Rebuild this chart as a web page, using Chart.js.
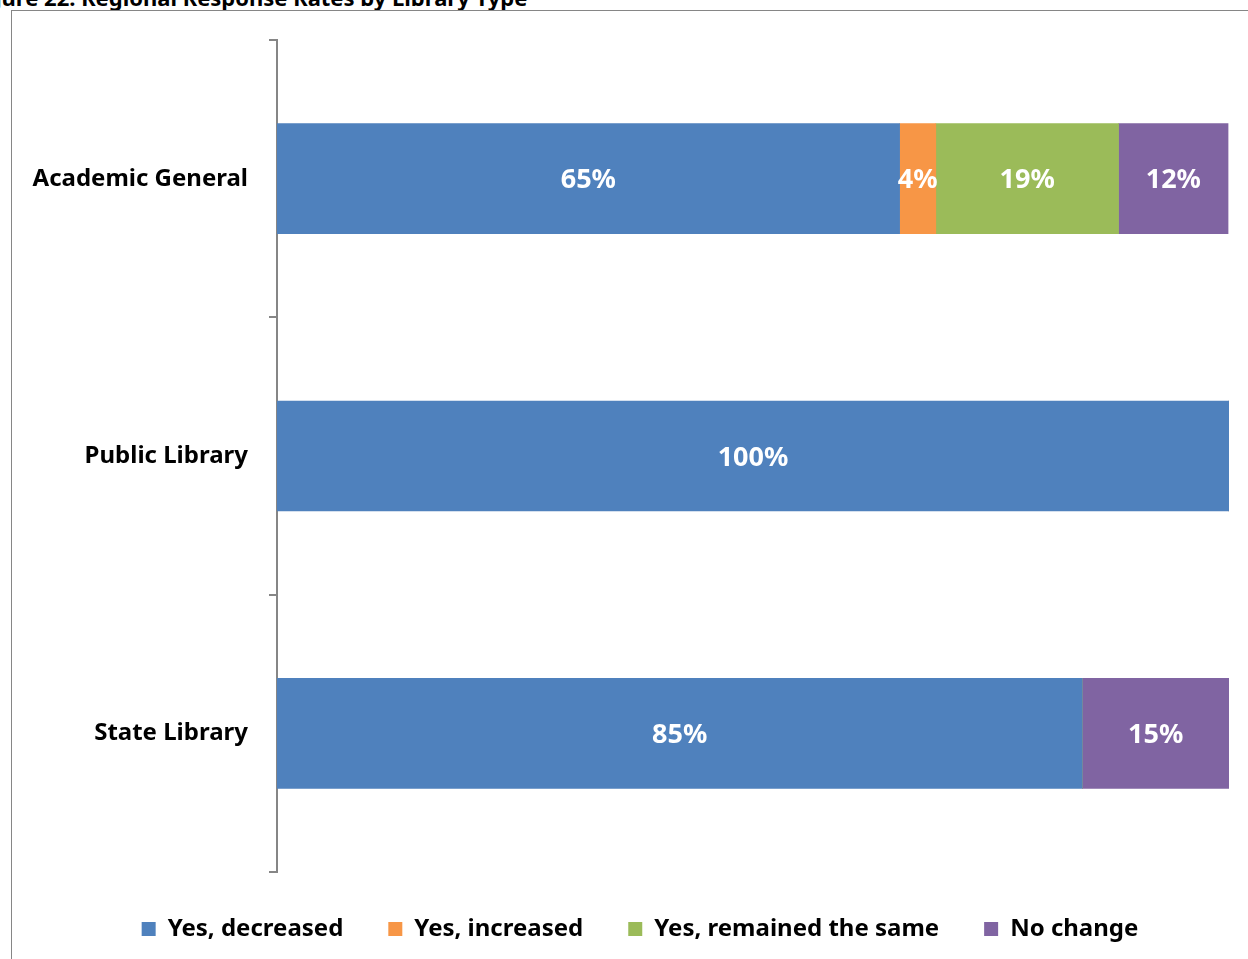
<!DOCTYPE html>
<html>
<head>
<meta charset="utf-8">
<script src="https://cdn.jsdelivr.net/npm/chart.js@4"></script>
<style>
  html, body { margin: 0; padding: 0; background: #fff; overflow: hidden; }
  #titulo {
    position: absolute; left: -31px; top: -18px;
    font: bold 22px "Noto Sans", sans-serif; color: #000; white-space: nowrap;
  }
  #marco {
    position: absolute; left: 11px; top: 10px; width: 1260px; height: 980px;
    border: 1px solid #868686; box-sizing: border-box;
  }
  #lienzo { position: absolute; left: 0; top: 0; }
</style>
</head>
<body>
<div id="titulo">Figure 22: Regional Response Rates by Library Type</div>
<div id="marco"></div>
<canvas id="lienzo" width="1248" height="959"></canvas>
<script>
// Datos
const categorias = ['Academic General', 'Public Library', 'State Library'];
const series = ['Yes, decreased', 'Yes, increased', 'Yes, remained the same', 'No change'];
const siDisminuyo   = [65.4, 100, 84.6];
const siAumento     = [3.8, 0, 0];
const siIgual       = [19.2, 0, 0];
const sinCambio     = [11.5, 0, 15.4];
const colores = ['#4F81BD', '#F79646', '#9BBB59', '#8064A2'];

const FUENTE = '"Noto Sans", sans-serif';

// Plugin para dibujar las etiquetas de porcentaje en blanco
const etiquetas = {
    id: 'etiquetas',
    afterDatasetsDraw(chart) {
        const ctx = chart.ctx;
        ctx.save();
        ctx.fillStyle = '#fff';
        ctx.font = 'bold 27px ' + FUENTE;
        ctx.textAlign = 'center';
        ctx.textBaseline = 'middle';
        chart.data.datasets.forEach((ds, i) => {
            chart.getDatasetMeta(i).data.forEach((bar, j) => {
                const v = ds.data[j];
                if (!v) return;
                const x = (bar.x + bar.base) / 2;
                ctx.fillText(Math.round(v) + '%', x, bar.y + 2);
            });
        });
        ctx.restore();
    }
};

// La leyenda va centrada en todo el marco, no solo en el área del gráfico
const leyendaCentrada = {
    id: 'leyendaCentrada',
    afterLayout(chart) {
        chart.legend.left = 0;
        chart.legend.right = 1280;
    }
};

const datos = [siDisminuyo, siAumento, siIgual, sinCambio];

new Chart(document.getElementById('lienzo'), {
    type: 'bar',
    data: {
        labels: categorias,
        datasets: series.map((nombre, i) => ({
            label: nombre,
            data: datos[i],
            backgroundColor: colores[i],
            borderWidth: 0,
            barThickness: 110
        }))
    },
    plugins: [etiquetas, leyendaCentrada],
    options: {
        indexAxis: 'y',
        responsive: false,
        animation: false,
        layout: { padding: { top: 40, right: 19, left: 0, bottom: 8 } },
        plugins: {
            tooltip: { enabled: false },
            legend: {
                position: 'bottom',
                labels: {
                    color: '#000',
                    font: { family: FUENTE, size: 24, weight: 'bold' },
                    boxWidth: 14,
                    boxHeight: 14,
                    padding: 45
                }
            }
        },
        scales: {
            x: { stacked: true, display: false, min: 0, max: 100 },
            y: {
                stacked: true,
                offset: true,
                afterFit: (s) => { s.width = 277; },
                border: { color: '#868686', width: 2 },
                grid: { offset: true, drawOnChartArea: false, color: '#868686', lineWidth: 2, tickLength: 8 },
                ticks: { color: '#000', padding: 21, font: { family: FUENTE, size: 24, weight: 'bold' } }
            }
        }
    }
});
</script>
</body>
</html>
